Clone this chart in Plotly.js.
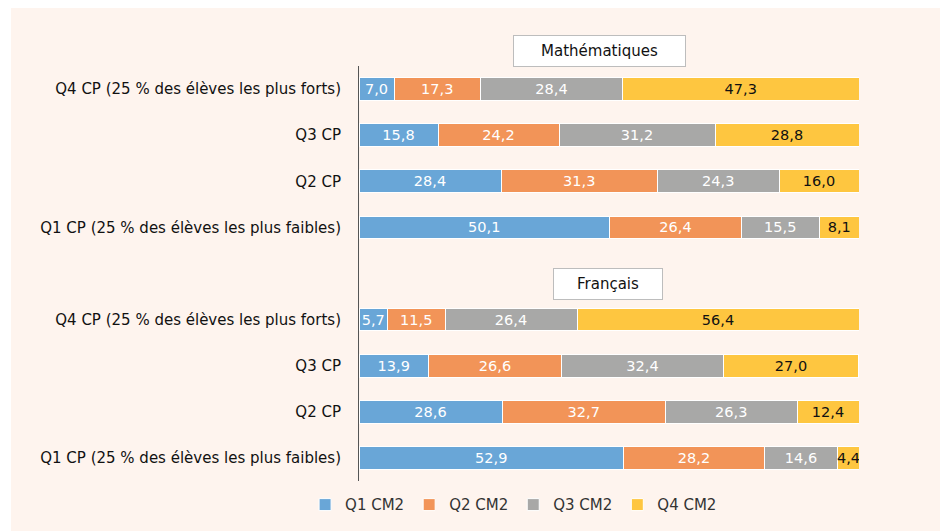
<!DOCTYPE html>
<html><head><meta charset="utf-8">
<script src="https://cdn.plot.ly/plotly-3.0.1.min.js"></script>
<style>html,body{margin:0;padding:0;background:#fff;}#chart{position:absolute;left:11px;top:8px;width:929px;height:523px;}</style>
</head><body><div id="chart"></div>
<script>
// Rows listed bottom to top; null row = gap slot for the subject box
const rowLabels = [
  "Q1 CP (25 % des élèves les plus faibles)", "Q2 CP", "Q3 CP", "Q4 CP (25 % des élèves les plus forts)",
  null,
  "Q1 CP (25 % des élèves les plus faibles)", "Q2 CP", "Q3 CP", "Q4 CP (25 % des élèves les plus forts)"
];
const seriesNames = ["Q1 CM2", "Q2 CM2", "Q3 CM2", "Q4 CM2"];
// Français Q1..Q4, gap, Mathématiques Q1..Q4
const q1CM2 = [52.9, 28.6, 13.9, 5.7, null, 50.1, 28.4, 15.8, 7.0];
const q2CM2 = [28.2, 32.7, 26.6, 11.5, null, 26.4, 31.3, 24.2, 17.3];
const q3CM2 = [14.6, 26.3, 32.4, 26.4, null, 15.5, 24.3, 31.2, 28.4];
const q4CM2 = [4.4, 12.4, 27.0, 56.4, null, 8.1, 16.0, 28.8, 47.3];
const subjects = ["Français", "Mathématiques"];

const colors = ["#69a6d7", "#f29458", "#a8a8a7", "#fec640"];
const textColors = ["#ffffff", "#ffffff", "#ffffff", "#111111"];
const allSeries = [q1CM2, q2CM2, q3CM2, q4CM2];

const idx = rowLabels.map((_, i) => i);
const fmt = v => v == null ? "" : v.toFixed(1).replace(".", ",");
const F = "DejaVu Sans, sans-serif";

const traces = allSeries.map((vals, s) => ({
  type: "bar", orientation: "h", name: seriesNames[s],
  x: vals, y: idx,
  text: vals.map(fmt), textposition: "inside", insidetextanchor: "middle",
  constraintext: "none", textangle: 0,
  textfont: {color: textColors[s], size: 14.5, family: F},
  marker: {color: colors[s], line: {color: "#ffffff", width: 1}},
  width: 0.49, hoverinfo: "skip"
}));

const tickIdx = idx.filter(i => rowLabels[i] !== null);

const layout = {
  width: 929, height: 523,
  paper_bgcolor: "#fef4ee", plot_bgcolor: "#fef4ee",
  margin: {l: 348, r: 81, t: 58, b: 50},
  barmode: "stack", bargap: 0.5,
  font: {family: F, size: 14, color: "#111"},
  xaxis: {range: [0, 100], visible: false, fixedrange: true},
  yaxis: {
    range: [-0.5, 8.5], tickmode: "array", tickvals: tickIdx,
    ticktext: tickIdx.map(i => rowLabels[i]),
    showgrid: false, zeroline: false, showline: true, linecolor: "#555", linewidth: 1,
    ticks: "", ticklabelstandoff: 14, tickfont: {size: 15, color: "#111", family: F}
  },
  showlegend: true,
  legend: {orientation: "h", xref: "container", x: 0.541, xanchor: "center",
           yref: "container", y: 0.05, yanchor: "middle",
           font: {size: 15, color: "#333", family: F}, itemwidth: 30, traceorder: "normal",
           bgcolor: "rgba(0,0,0,0)"},
  annotations: [
    {text: subjects[1], xref: "x", yref: "paper", x: 48, y: 1.036, yanchor: "middle", showarrow: false,
     bgcolor: "#ffffff", bordercolor: "#bdbdbd", borderwidth: 1, borderpad: 2,
     width: 167, height: 26, font: {size: 15, color: "#111", family: F}},
    {text: subjects[0], xref: "x", yref: "paper", x: 49.8, y: 0.475, yanchor: "middle", showarrow: false,
     bgcolor: "#ffffff", bordercolor: "#bdbdbd", borderwidth: 1, borderpad: 2,
     width: 104, height: 26, font: {size: 15, color: "#111", family: F}}
  ]
};

Plotly.newPlot("chart", traces, layout, {displayModeBar: false, staticPlot: true});
</script></body></html>
